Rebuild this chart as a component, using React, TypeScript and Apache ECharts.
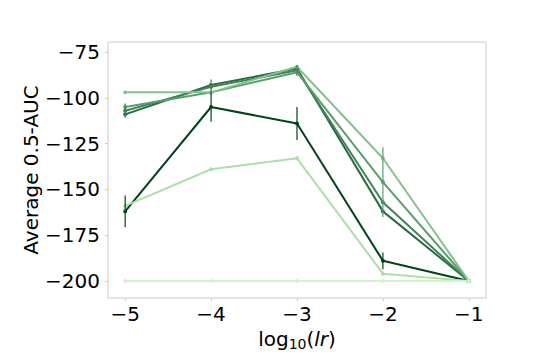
import React, { useEffect, useRef } from "react";
import * as echarts from "echarts";

const xValues = [-5, -4, -3, -2, -1];
const xTicks = [-5, -4, -3, -2, -1];
const yTicks = [-200, -175, -150, -125, -100, -75];

const seriesNames = ["s1", "s2", "s3", "s4", "s5", "s6", "s7"];
const seriesColors = ["#00441b", "#2a6b45", "#3d8456", "#5a9e6c", "#86c28d", "#ace0a8", "#cff5c8"];
const s1 = [-162, -105, -114, -189, -200];
const s2 = [-109, -93, -84, -162, -200];
const s3 = [-107, -94, -85, -157, -200];
const s4 = [-105, -97, -86, -146, -200];
const s5 = [-97, -97, -83, -133, -200];
const s6 = [-159, -139, -133, -196, -200];
const s7 = [-200, -200, -200, -200, -200];
const e1 = [8.7, 8, 9, 4.6, 0];
const e2 = [0, 0, 0, 0, 0];
const e3 = [3.9, 4, 3, 0, 0];
const e4 = [0, 0, 0, 19, 0];
const e5 = [0, 0, 0, 0, 0];
const e6 = [0, 0, 0, 0, 0];
const e7 = [0, 0, 0, 0, 0];

const allValues = [s1, s2, s3, s4, s5, s6, s7];
const allErrors = [e1, e2, e3, e4, e5, e6, e7];

const fmt = (v: number) => String(v).replace("-", "\u2212");

export default function App() {
  const ref = useRef<HTMLDivElement>(null);
  useEffect(() => {
    if (!ref.current) return;
    const chart = echarts.init(ref.current, null, { renderer: "svg" });
    const series: any[] = [];
    allValues.forEach((vals, i) => {
      series.push({
        name: seriesNames[i],
        type: "line",
        data: xValues.map((x, j) => [x, vals[j]]),
        symbol: "circle",
        symbolSize: 4,
        showSymbol: true,
        lineStyle: { color: seriesColors[i], width: 2 },
        itemStyle: { color: seriesColors[i] },
        z: 2,
      });
      const errs = allErrors[i];
      series.push({
        name: seriesNames[i] + "_err",
        type: "custom",
        data: xValues.map((x, j) => [x, vals[j], errs[j]]).filter((d) => d[2] > 0),
        renderItem: (params: any, api: any) => {
          const x = api.value(0);
          const y = api.value(1);
          const e = api.value(2);
          const p1 = api.coord([x, y + e]);
          const p2 = api.coord([x, y - e]);
          return {
            type: "line",
            shape: { x1: p1[0], y1: p1[1], x2: p2[0], y2: p2[1] },
            style: { stroke: seriesColors[i], lineWidth: 1.2 },
          };
        },
        z: 3,
      });
    });
    const txt = { fontFamily: "DejaVu Sans", color: "#000000" };
    chart.setOption({
      animation: false,
      grid: { left: 108, right: 54, top: 42, bottom: 62, show: true, borderColor: "#cccccc", borderWidth: 1 },
      xAxis: {
        type: "value",
        min: -5.2,
        max: -0.8,
        name: "log{sub|10}({it|lr})",
        nameLocation: "middle",
        nameGap: 20,
        nameTextStyle: {
          ...txt,
          fontSize: 20,
          rich: {
            sub: { ...txt, fontSize: 14, verticalAlign: "bottom", padding: [10, 0, 0, 0] },
            it: { ...txt, fontStyle: "italic", fontSize: 20 },
          },
        },
        axisLine: { show: false },
        axisTick: { show: true, customValues: xTicks, length: 3, lineStyle: { color: "#cccccc" } },
        axisLabel: { customValues: xTicks, formatter: fmt, ...txt, fontSize: 20, margin: 6 },
        splitLine: { show: false },
      },
      yAxis: {
        type: "value",
        min: -209.3,
        max: -69.5,
        name: "Average 0.5-AUC",
        nameLocation: "middle",
        nameGap: 67,
        nameMoveOverlap: false,
        nameTextStyle: { ...txt, fontSize: 20 },
        axisLine: { show: false },
        axisTick: { show: true, customValues: yTicks, length: 3, lineStyle: { color: "#cccccc" } },
        axisLabel: { customValues: yTicks, formatter: fmt, ...txt, fontSize: 20, margin: 8 },
        splitLine: { show: false },
      },
      series,
    });
    return () => chart.dispose();
  }, []);
  return <div ref={ref} style={{ width: 540, height: 360, position: "absolute", left: 0, top: 0 }} />;
}
